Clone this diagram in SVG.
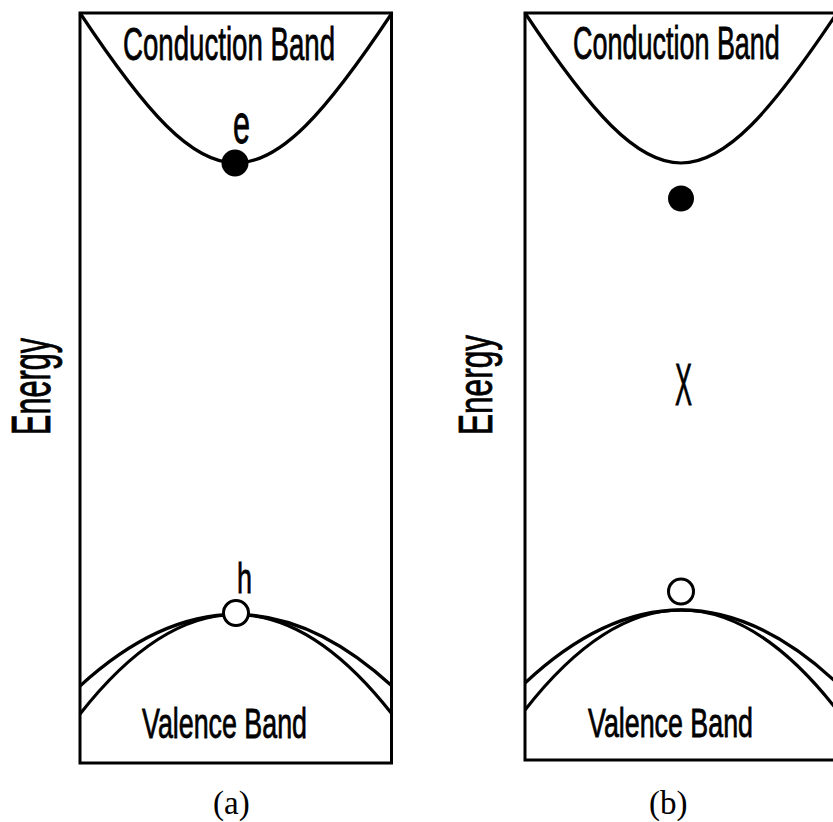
<svg xmlns="http://www.w3.org/2000/svg" width="833" height="822" viewBox="0 0 833 822">
<style>
.frame{fill:none;stroke:#000;stroke-width:3}
.band{fill:none;stroke:#000;stroke-width:3.2}
.lbl{font-family:"Liberation Sans",Arial,sans-serif;fill:#000;stroke:#000;stroke-width:0.8}
.cap{font-family:"Liberation Serif","Times New Roman",serif;fill:#000;font-size:33px}
.e{fill:#000}
.h{fill:#fff;stroke:#000;stroke-width:3}
</style>
<rect width="833" height="822" fill="#fff"/>
<g id="panel-a">
  <rect class="frame" x="80" y="13" width="311.5" height="750"/>
  <g id="a-conduction">
    <path class="band" d="M80,13 C213,213 259,213 392,13"/>
    <text class="lbl" x="123" y="60" font-size="47" textLength="212" lengthAdjust="spacingAndGlyphs">Conduction Band</text>
  </g>
  <g id="a-valence">
    <path class="band" d="M80,686 Q236,543 392,686"/>
    <path class="band" d="M80,714 Q236,515 392,714"/>
    <text class="lbl" x="142" y="738" font-size="42" textLength="165" lengthAdjust="spacingAndGlyphs">Valence Band</text>
  </g>
  <g id="a-electron">
    <circle class="e" cx="235" cy="163" r="13.5"/>
    <text class="lbl" x="233" y="143" font-size="55" textLength="17" lengthAdjust="spacingAndGlyphs">e</text>
  </g>
  <g id="a-hole">
    <circle class="h" cx="236" cy="613" r="12.5"/>
    <text class="lbl" x="237" y="593" font-size="43" textLength="15" lengthAdjust="spacingAndGlyphs">h</text>
  </g>
  <text class="lbl" transform="translate(50,435) rotate(-90)" font-size="55" textLength="97" lengthAdjust="spacingAndGlyphs">Energy</text>
  <text class="cap" x="213" y="814">(a)</text>
</g>
<g id="panel-b">
  <path class="frame" d="M833,13 H525 V760 H833"/>
  <g id="b-conduction">
    <path class="band" d="M525,13 C658,213 704,213 837,13"/>
    <text class="lbl" transform="translate(573,59) scale(0.5864,1)" font-size="46" stroke-width="1">Conduction Band</text>
  </g>
  <g id="b-valence">
    <path class="band" d="M525,683 Q681,537 837,683"/>
    <path class="band" d="M525,710 Q681,510 837,710"/>
    <text class="lbl" x="588" y="737" font-size="40" textLength="165" lengthAdjust="spacingAndGlyphs">Valence Band</text>
  </g>
  <g id="b-electron">
    <circle class="e" cx="681" cy="198.5" r="13"/>
  </g>
  <g id="b-exciton">
    <text class="lbl" x="675" y="405" font-size="60" textLength="17" lengthAdjust="spacingAndGlyphs">X</text>
  </g>
  <g id="b-hole">
    <circle class="h" cx="681" cy="591.5" r="12.5"/>
  </g>
  <text class="lbl" transform="translate(492,435) rotate(-90)" font-size="49" textLength="100" lengthAdjust="spacingAndGlyphs">Energy</text>
  <text class="cap" x="649" y="814">(b)</text>
</g>
</svg>
